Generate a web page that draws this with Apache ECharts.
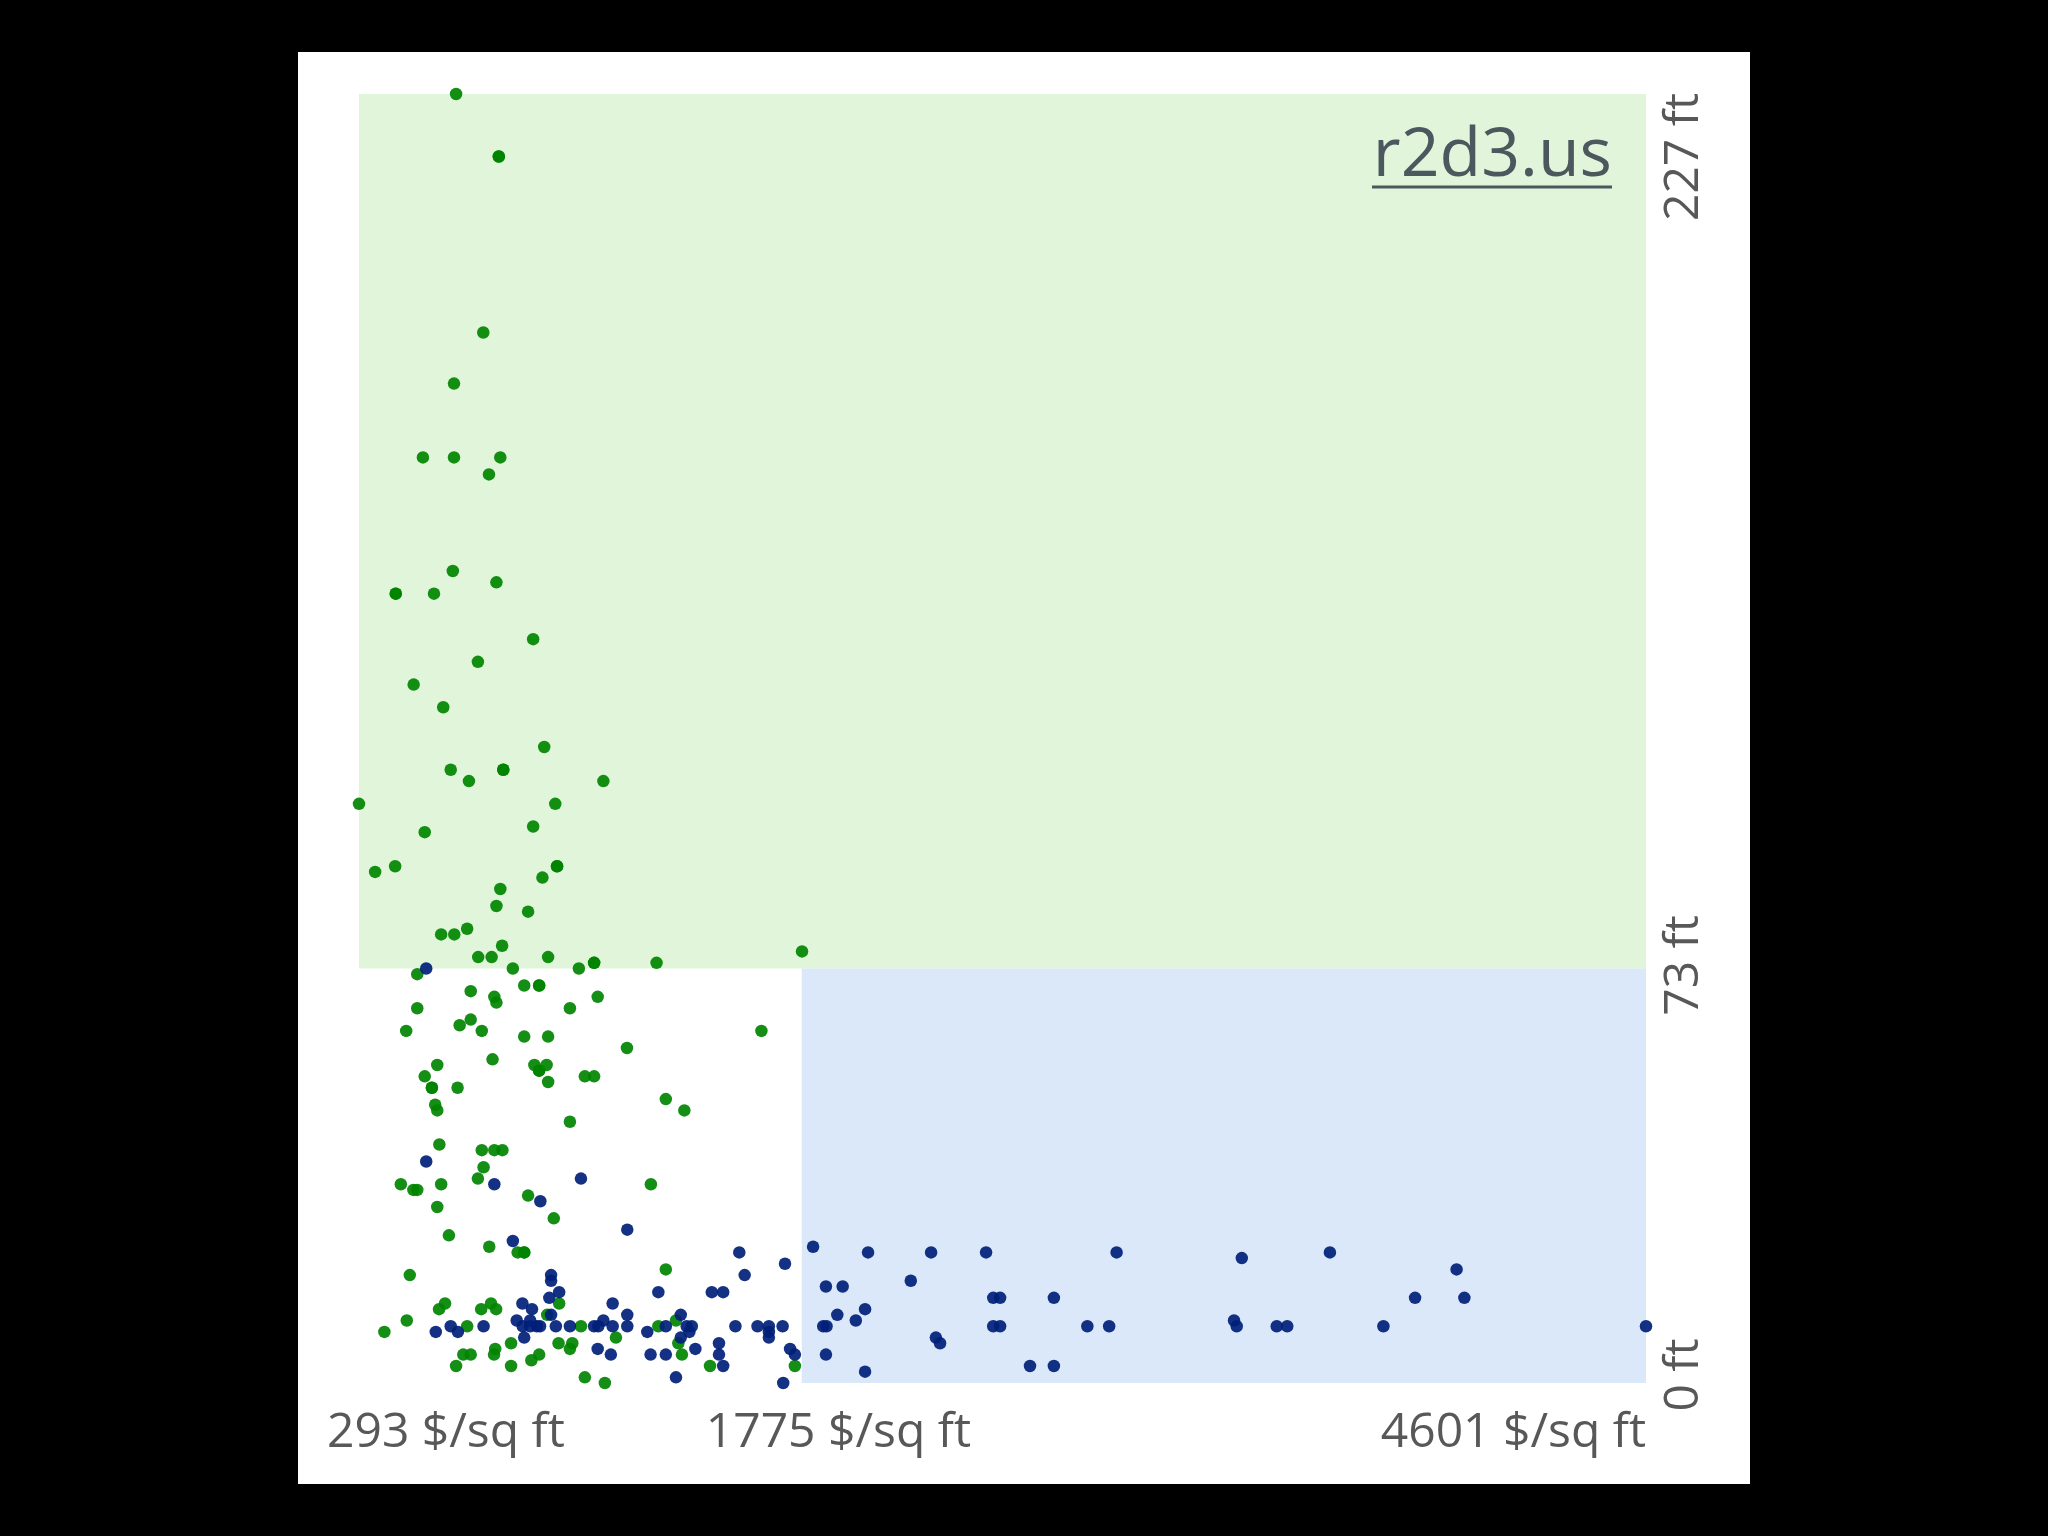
<!DOCTYPE html>
<html>
<head>
<meta charset="utf-8">
<script src="https://cdn.jsdelivr.net/npm/echarts@6/dist/echarts.min.js"></script>
<style>
html,body{margin:0;padding:0;background:#000;width:2048px;height:1536px;overflow:hidden;}
#panel{position:absolute;left:298px;top:52px;width:1452px;height:1432px;background:#fff;}
#chart{position:absolute;left:0;top:0;width:2048px;height:1536px;}
</style>
</head>
<body>
<div id="panel"></div>
<div id="chart"></div>
<script>
// ---- data: [price per sq ft, elevation ft] ----
const sanFrancisco = [
[618,227],[761,216],[761,216],[709,185],[611,176],[507,163],[611,163],[766,163],[728,160],
[607,143],[753,141],[416,139],[416,139],[544,139],[876,131],[691,127],[476,123],[575,119],[913,112],
[600,108],[776,108],[776,108],[661,106],[1111,106],[293,102],[950,102],[876,98],[513,97],[347,90],
[414,91],[956,91],[956,91],[907,89],[766,87],[753,84],[859,83],[568,79],[612,79],[655,80],[772,77],
[692,75],[737,75],[926,75],[1080,74],[1080,74],[1289,74],[488,72],[808,73],[1029,73],[1776,76],
[667,69],[846,70],[896,70],[896,70],[746,68],[753,67],[1092,68],[488,66],[999,66],[451,62],[630,63],
[667,64],[704,62],[846,61],[926,61],[1640,62],[1190,59],[740,57],[555,56],[880,56],[921,56],[896,55],
[896,55],[513,54],[1049,54],[1080,54],[926,53],[537,52],[537,52],[623,52],[548,49],[555,48],[1320,50],
[1382,48],[999,46],[562,42],[704,41],[746,41],[773,41],[710,38],[691,36],[433,35],[475,34],[488,34],
[568,35],[1270,35],[859,33],[555,31],[945,29],[594,26],
[729,24],[824,23],[846,23],[846,23],[463,19],[1320,20],[581,14],[561,13],[702,13],[735,14],[752,13],
[963,14],[453,11],[378,9],[655,10],[923,12],[1036,10],[1295,10],[1354,11],[1362,7],[1374,5],[1468,3],
[1752,3],[961,7],[1007,7],[999,6],[1153,8],[802,7],[749,6],[745,5],[642,5],[667,5],[618,3],[802,3],
[870,4],[896,5],[1049,1],[1116,0]
];
const newYork = [
[518,73],[518,39],[1036,36],[746,35],[900,32],[1191,27],[808,25],
[1566,23],[1719,21],[1813,24],[1584,19],[936,19],[936,18],[963,16],[930,15],[1295,16],[1474,16],
[1512,16],[840,14],[872,13],[1142,14],[550,9],[600,10],[624,9],[710,10],[821,11],[841,10],[866,10],
[888,10],[899,10],[866,11],[936,12],[952,10],[999,10],[1080,10],[1094,10],[1111,11],[1142,10],
[1191,12],[1191,10],[1258,9],[1320,10],[1370,12],[1390,10],[1407,10],[1399,9],[1370,8],[1419,6],
[1553,10],[1627,10],[1665,10],[1711,10],[1665,9],[1665,8],[1498,7],[1498,5],[1512,3],[1736,6],
[1752,5],[1713,0],[1354,1],[846,8],[1092,6],[1136,5],[1269,5],[1320,5],
[1997,23],[2208,23],[2392,23],[2829,23],[3248,22],[1856,17],[1912,17],[2140,18],[2416,15],[2439,15],
[2619,15],[1894,12],[1987,13],[1956,11],[1847,10],[1858,10],[2416,10],[2439,10],[2731,10],[2804,10],
[3222,11],[3231,10],[3365,10],[2224,8],[2238,7],[1856,5],[1987,2],[2539,3],[2619,3],
[3543,23],[3967,20],[3828,15],[3993,15],[3400,10],[3722,10],[4601,10]
];
const priceTicks = [293, 1775, 4601];
const elevationTicks = [0, 73, 227];
const priceLabels = ['293 $/sq ft', '1775 $/sq ft', '4601 $/sq ft'];
const elevationLabels = ['0 ft', '73 ft', '227 ft'];
const splitPrice = 1775;
const splitElevation = 73;

const chart = echarts.init(document.getElementById('chart'), null, {renderer:'canvas'});
const xMin = priceTicks[0], xMax = priceTicks[2];
const yMin = elevationTicks[0], yMax = elevationTicks[2];

chart.setOption({
  animation:false,
  backgroundColor:'transparent',
  grid:{left:359, right:402, top:94, bottom:153},
  xAxis:{type:'value', min:xMin, max:xMax, show:false},
  yAxis:{type:'value', min:yMin, max:yMax, show:false},
  series:[
    {
      type:'scatter', name:'San Francisco', data:sanFrancisco, symbolSize:12.5, clip:false,
      itemStyle:{color:'rgb(0,132,0)', opacity:0.92},
      markArea:{
        silent:true,
        itemStyle:{color:'#e0f5da'},
        data:[[{coord:[xMin, splitElevation]},{coord:[xMax, yMax]}]]
      },
      z:3
    },
    {
      type:'scatter', name:'New York', data:newYork, symbolSize:12.5, clip:false,
      itemStyle:{color:'rgb(0,32,122)', opacity:0.92},
      markArea:{
        silent:true,
        itemStyle:{color:'#dae8fa'},
        data:[[{coord:[splitPrice, yMin]},{coord:[xMax, splitElevation]}]]
      },
      z:3
    }
  ]
});

function px(v){ return chart.convertToPixel({xAxisIndex:0}, v); }
function py(v){ return chart.convertToPixel({yAxisIndex:0}, v); }

const font = '48px "Open Sans"';
const col = '#585858';
const baseY = py(0) + 67;          // x-label baseline region
const labelX = px(xMax) + 56;      // y-label column
const g = [];
// x labels
g.push({type:'text', x:px(priceTicks[0]) - 32, y:baseY - 17,
  style:{text:priceLabels[0], font:font, fill:col, align:'left', verticalAlign:'middle'}});
g.push({type:'text', x:px(priceTicks[1]) - 96, y:baseY - 17,
  style:{text:priceLabels[1], font:font, fill:col, align:'left', verticalAlign:'middle'}});
g.push({type:'text', x:px(priceTicks[2]), y:baseY - 17,
  style:{text:priceLabels[2], font:font, fill:col, align:'right', verticalAlign:'middle'}});
// y labels (rotated)
g.push({type:'text', x:labelX - 18, y:py(elevationTicks[0]) - 8, rotation:Math.PI/2,
  style:{text:elevationLabels[0], font:font, fill:col, align:'center', verticalAlign:'middle'}});
g.push({type:'text', x:labelX - 18, y:py(elevationTicks[1]) - 3, rotation:Math.PI/2,
  style:{text:elevationLabels[1], font:font, fill:col, align:'center', verticalAlign:'middle'}});
g.push({type:'text', x:labelX - 18, y:py(elevationTicks[2]) - 1, rotation:Math.PI/2,
  style:{text:elevationLabels[2], font:font, fill:col, align:'right', verticalAlign:'middle'}});
// site link
const linkRight = px(xMax) - 34;
const linkBase = py(yMax) + 88;
g.push({type:'text', x:linkRight, y:linkBase - 25, z:10,
  style:{text:'r2d3.us', font:'68px "Open Sans"', fill:'#4b585d', align:'right', verticalAlign:'middle'}});
g.push({type:'line', z:10, shape:{x1:linkRight - 240, y1:linkBase + 5, x2:linkRight, y2:linkBase + 5},
  style:{stroke:'#4b585d', lineWidth:3}});
chart.setOption({graphic:g});
</script>
</body>
</html>
